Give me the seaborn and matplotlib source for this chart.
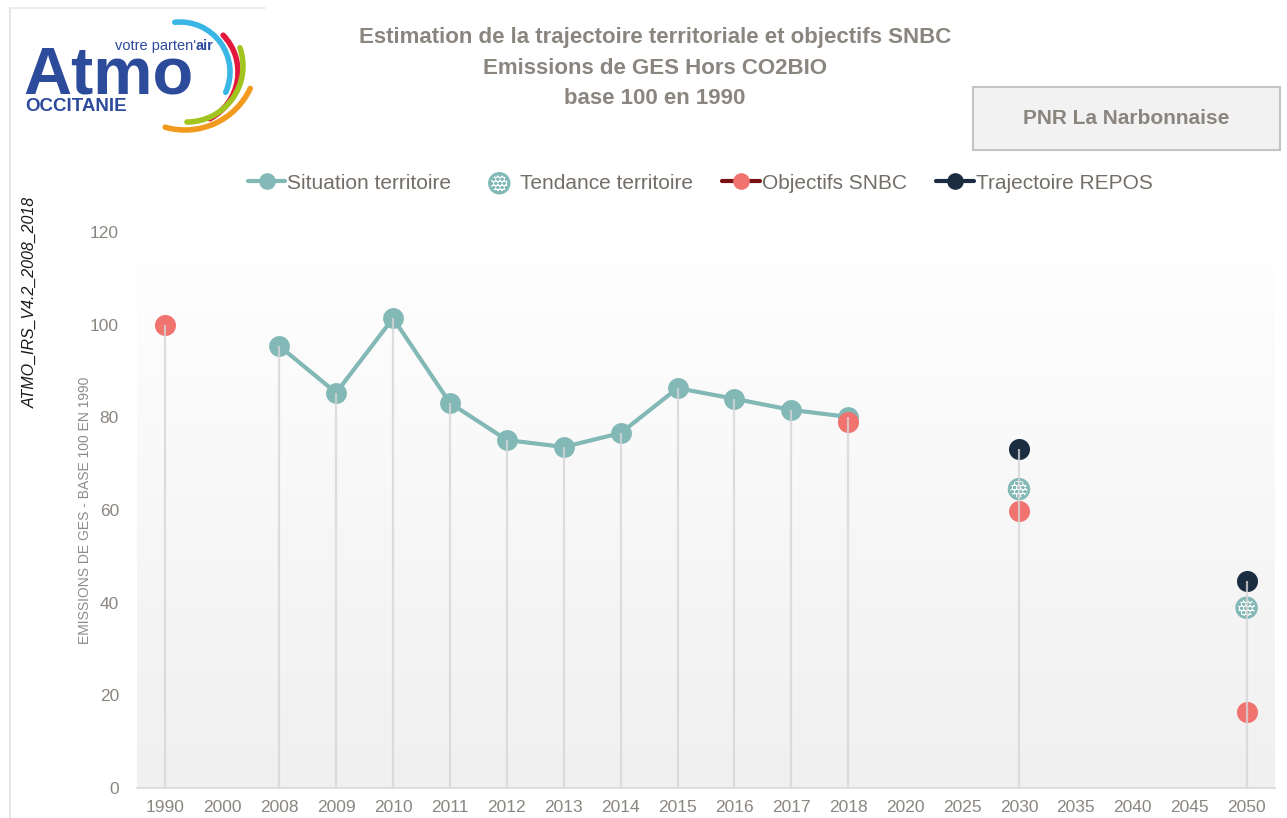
import numpy as np
import pandas as pd
import seaborn as sns
import matplotlib
matplotlib.use('Agg')
import matplotlib.pyplot as plt
from matplotlib.lines import Line2D
from matplotlib.patches import Arc, Rectangle

# data
years = ['1990', '2000', '2008', '2009', '2010', '2011', '2012', '2013', '2014',
         '2015', '2016', '2017', '2018', '2020', '2025', '2030', '2035', '2040',
         '2045', '2050']

sit_years = ['2008', '2009', '2010', '2011', '2012', '2013', '2014', '2015',
             '2016', '2017', '2018']
sit_vals = [95.4, 85.3, 101.4, 83.1, 75.1, 73.6, 76.6, 86.3, 84.0, 81.6, 80.1]

tend_years = ['2030', '2050']
tend_vals = [64.5, 38.9]

snbc_years = ['1990', '2018', '2030', '2050']
snbc_vals = [100.0, 79.0, 59.8, 16.4]

repos_years = ['2030', '2050']
repos_vals = [73.2, 44.7]

yticks = [0, 20, 40, 60, 80, 100, 120]

TEAL = '#82b8b6'
RED = '#f07370'
DARK = '#1b2d41'
DARKRED = '#7a1111'
GREY_TXT = '#8a857f'

sns.set_theme(style='white')
plt.rcParams['font.family'] = ['Liberation Sans Narrow', 'Liberation Sans', 'DejaVu Sans']


def frame(ys, vs):
    return pd.DataFrame({'pos': [years.index(y) for y in ys], 'val': vs})


sit = frame(sit_years, sit_vals)
tend = frame(tend_years, tend_vals)
snbc = frame(snbc_years, snbc_vals)
repos = frame(repos_years, repos_vals)

fig = plt.figure(figsize=(12.87, 8.18), dpi=100)
fig.patch.set_facecolor('white')
ax = fig.add_axes([137 / 1287, 30 / 818, 1138 / 1287, 556 / 818])
ax.set_facecolor('white')

# gradient background of the plot area
grad = np.linspace(0, 1, 256).reshape(-1, 1)
cmap = matplotlib.colors.LinearSegmentedColormap.from_list('bg', ['#f0f0f0', '#ffffff'])
ax.imshow(grad, extent=(-0.5, 19.5, 0, 120), aspect='auto', cmap=cmap,
          origin='lower', zorder=0)

# drop lines from each category's highest point
allpts = pd.concat([sit, tend, snbc, repos])
tops = allpts.groupby('pos')['val'].max()
ax.vlines(tops.index, 0, tops.values, color='#d6d6d6', lw=1.6, zorder=5, alpha=0.8)

sns.lineplot(data=sit, x='pos', y='val', ax=ax, color=TEAL, lw=3, marker='o',
             markersize=15, markeredgewidth=0, zorder=3)
sc_tend = ax.scatter(tend['pos'], tend['val'], s=200, facecolor='white',
                     edgecolor=TEAL, linewidth=2, hatch='oooo', zorder=3)
sns.scatterplot(data=snbc, x='pos', y='val', ax=ax, color=RED, s=230,
                linewidth=0, zorder=4)
sns.scatterplot(data=repos, x='pos', y='val', ax=ax, color=DARK, s=230,
                linewidth=0, zorder=4)

ax.set_xlim(-0.5, 19.5)
ax.set_ylim(0, 120)
ax.set_xticks(range(len(years)), years)
ax.set_yticks(yticks)
ax.tick_params(axis='both', length=0, labelsize=12.5, labelcolor='#8a8680')
ax.tick_params(axis='x', pad=9)
ax.tick_params(axis='y', pad=13)
ax.set_xlabel('')
ax.set_ylabel('')
for s in ['top', 'right', 'left']:
    ax.spines[s].set_visible(False)
ax.spines['bottom'].set_color('#d9d9d9')
ax.spines['bottom'].set_linewidth(1.2)

# legend
handles = [
    Line2D([], [], color=TEAL, lw=3, marker='o', ms=12, mew=0),
    sc_tend,
    Line2D([], [], color=DARKRED, lw=3, marker='o', ms=12, mfc=RED, mew=0),
    Line2D([], [], color=DARK, lw=3, marker='o', ms=12, mfc=DARK, mew=0),
]
labels = ['Situation territoire', 'Tendance territoire', 'Objectifs SNBC',
          'Trajectoire REPOS']
leg = fig.legend(handles, labels, loc='center', bbox_to_anchor=(0.544, 0.776),
                 ncol=4, frameon=False, fontsize=15, handlelength=1.8,
                 handletextpad=0.1, columnspacing=1.4, scatterpoints=1)
for t in leg.get_texts():
    t.set_color('#736e68')

# titles and side texts
fig.text(0.509, 1 - 38 / 818, 'Estimation de la trajectoire territoriale et objectifs SNBC',
         ha='center', va='center', fontsize=16, fontweight='bold', color=GREY_TXT)
fig.text(0.509, 1 - 68 / 818, 'Emissions de GES Hors CO2BIO',
         ha='center', va='center', fontsize=16, fontweight='bold', color=GREY_TXT)
fig.text(0.509, 1 - 98 / 818, 'base 100 en 1990',
         ha='center', va='center', fontsize=16, fontweight='bold', color=GREY_TXT)
fig.text(30 / 1287, 1 - 302 / 818, 'ATMO_IRS_V4.2_2008_2018', rotation=90,
         ha='center', va='center', fontsize=11.5, fontstyle='italic', color='#1a1a1a')
fig.text(85 / 1287, 1 - 510 / 818, 'EMISSIONS DE GES - BASE 100 EN 1990', rotation=90,
         ha='center', va='center', fontsize=10, color='#8c8c8c')

# overlay in pixel coordinates for the logo, box and frame lines
ov = fig.add_axes([0, 0, 1, 1], zorder=10)
ov.set_xlim(0, 1287)
ov.set_ylim(818, 0)
ov.axis('off')
ov.patch.set_alpha(0)

ov.plot([10, 10], [8, 818], color='#e2e2e2', lw=1.2)
ov.plot([10, 265], [8, 8], color='#e8e8e8', lw=1.2)

ov.add_patch(Rectangle((973, 87), 307, 63, facecolor='#f2f2f2', edgecolor='#c4c4c4', lw=1.5))
ov.text(1126, 119, 'PNR La Narbonnaise', ha='center', va='center', fontsize=15,
        fontweight='bold', color=GREY_TXT)

# logo
BLUE = '#2d4b9b'
LOGO_FONT = ['Liberation Sans', 'DejaVu Sans']
ov.text(23, 93, 'Atmo', fontsize=48, fontweight='bold', color=BLUE, va='baseline',
        family=LOGO_FONT)
ov.text(196, 50, "votre parten'", fontsize=10.5, color=BLUE, va='baseline', ha='right',
        family=LOGO_FONT)
ov.text(196, 50, 'air', fontsize=10.5, color=BLUE, va='baseline', ha='left',
        fontweight='bold', family=LOGO_FONT)
ov.text(25, 111, 'OCCITANIE', fontsize=13.5, color=BLUE, va='baseline', fontweight='bold',
        family=LOGO_FONT)
# y axis is inverted here, so arc angles are mirrored
for (cx, cy, r, a1, a2, col) in [(180, 72, 50, -24, 96, '#39b6e5'),
                                 (185, 72, 53, -62, 44, '#e2183e'),
                                 (187, 66, 56, -90, 19, '#a2c41f'),
                                 (185, 58, 72, -106, -25, '#f29a1d')]:
    ov.add_patch(Arc((cx, cy), 2 * r, 2 * r, theta1=-a2, theta2=-a1, color=col, lw=4,
                     capstyle='round'))

fig.savefig('out.png', dpi=100)
